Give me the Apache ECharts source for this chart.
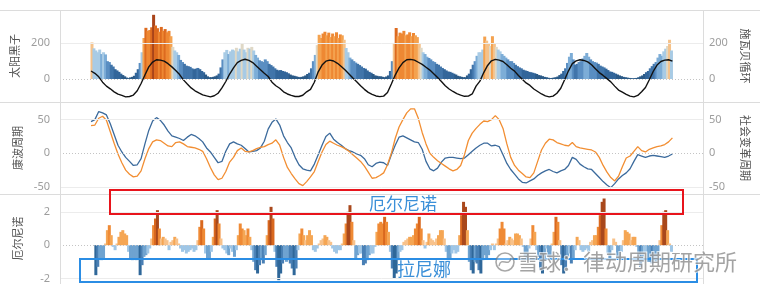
<!DOCTYPE html>
<html><head><meta charset="utf-8">
<script src="https://cdn.jsdelivr.net/npm/echarts@6/dist/echarts.min.js"></script>
<style>html,body{margin:0;padding:0;background:#fff;}#c{width:760px;height:284px;}</style>
</head><body><div id="c"></div>
<script>
// ---- data ----
const sunspotStart = 1949.5;   // quarterly
const sunspots = [205,172,
160,150,165,140, 150,138,100,95, 80,70,55,48, 40,30,22,15, 8,5,9,12,
18,35,55,90, 150,230,287,270, 275,290,360,300, 285,265,292,270, 280,262,270,240,
180,160,150,135, 107,95,85,75, 72,68,60,55, 58,62,55,45, 38,25,15,10,
10,12,15,20, 30,65,110,150, 163,140,155,165, 160,175,155,170, 197,165,150,175,
170,180,160,135, 120,105,100,95, 110,100,85,78, 70,60,52,48, 50,45,42,38,
32,25,20,18, 15,12,10,12, 15,20,28,35, 60,100,135,190, 248,230,255,265,
245,260,235,255, 240,262,230,250, 245,220,174,150, 120,110,100,92, 85,78,70,62,
58,48,40,35, 28,20,18,15, 15,12,10,14, 20,45,100,200, 286,240,260,255,
270,245,250,262, 240,258,245,235, 200,175,150,140, 125,118,110,100, 95,85,80,70,
62,55,48,42, 40,35,30,25, 18,15,12,10, 10,20,30,55, 80,100,130,150,
150,165,238,215, 200,185,240,200, 180,165,155,140, 130,120,110,100, 100,90,80,72,
65,60,52,48, 45,40,38,35, 32,28,22,20, 16,12,10,7, 5,6,8,10,
14,22,30,45, 60,90,125,146, 110,80,85,95, 100,115,130,146, 125,110,100,95,
92,85,75,70, 65,58,50,42, 40,35,30,25, 20,16,12,10, 8,6,5,4,
5,6,10,15, 20,28,38,45, 60,72,85,95, 120,140,130,155, 170,185,220,160];

const lineStart = 1949.5;      // half-yearly
const schwabe = [45,
32,12, -18,-40, -55,-72, -85,-92, -100,-98, -90,-66, -25,22, 68,95, 108,106, 100,86,
68,48, 25,-5, -28,-50, -66,-78, -89,-95, -100,-94, -80,-50, -14,28, 62,92, 104,111,
104,92, 72,52, 32,14, -18,-38, -52,-72, -84,-92, -98,-98, -91,-72, -58,-18, 40,78,
100,106, 101,88, 70,50, 28,6, -15,-38, -58,-75, -86,-95, -99,-96, -76,-28, 22,62,
92,108, 110,106, 94,82, 66,50, 30,8, -14,-38, -56,-70, -82,-90, -97,-96, -84,-40,
-12,36, 76,102, 110,106, 98,80, 60,44, 20,-2, -22,-36, -56,-70, -84,-95, -100,-96,
-80,-52, -4,46, 86,102, 108,104, 96,80, 58,36, 20,2, -16,-40, -62,-74, -86,-96,
-100,-92, -72,-48, -4,42, 78,98, 106,108, 100];
const kondratieff = [47,
50,62, 60,57, 44,28, 12,2, -6,-12, -18,-17, -8,14, 34,48, 53,49, 42,33,
26,24, 22,19, 24,28, 26,22, 17,8, 2,-6, -14,-12, 3,14, 17,14, 12,7,
2,3, 4,8, 18,36, 46,51, 42,26, 16,8, -6,-17, -23,-25, -26,-16, -2,12,
25,30, 21,16, 12,7, 4,2, -1,-3, -8,-17, -20,-15, -13,-14, -18,-2, 12,24,
26,23, 20,17, 16,6, -12,-23, -26,-22, -13,-7, -6,-6, -7,-8, -7,-2, 3,8,
12,15, 15,11, 12,10, -2,-15, -24,-31, -38,-43, -44,-41, -38,-33, -29,-26, -24,-27,
-29,-26, -24,-18, -6,-9, -16,-20, -23,-24, -30,-36, -42,-47, -51,-45, -38,-33, -29,-23,
-12,-2, -4,-6, -4,-3, -4,-5, -6,-4, -1];
const socialChange = [41,
42,52, 55,49, 32,15, -1,-14, -25,-31, -35,-34, -26,-8, 7,17, 20,19, 15,11,
10,16, 17,14, 10,9, 8,6, 3,-8, -21,-32, -39,-37, -27,-13, -6,4, 8,3,
2,4, 7,9, 10,13, 15,20, 12,-6, -21,-30, -38,-45, -48,-42, -35,-27, -12,2,
13,18, 15,12, 10,7, 3,-2, -7,-12, -19,-28, -37,-36, -33,-29, -17,0, 22,39,
50,60, 66,66, 52,31, 14,0, -6,-11, -15,-19, -23,-26, -24,-18, -2,19, 30,37,
43,48, 47,50, 56,50, 37,14, -6,-18, -25,-30, -35,-36, -29,-12, 5,15, 21,20,
16,14, 12,11, 16,10, 8,7, 6,5, 2,-6, -18,-28, -36,-41, -34,-20, -7,-4,
3,10, 4,2, 6,8, 10,11, 13,17, 23];

const ensoStart = 1950.0;      // quarterly
const enso = [
-1.8,-1.3,-0.8,-0.9, -0.8,0.1,0.9,1.2, 0.6,-0.1,-0.3,0.1, 0.5,0.8,0.9,0.7, 0.6,-0.4,-0.8,-0.9,
-0.8,-0.9,-0.8,-1.8, -1.2,-0.7,-0.6,-0.5, -0.2,0.4,1.2,1.6, 2.1,1.0,0.4,0.5, 0.4,0.3,-0.3,0.2,
0.3,0.5,0.4,0.1, -0.2,-0.4,-0.3,-0.5, -0.4,-0.3,-0.2,-0.4, -0.3,0.3,1.1,1.5, 1.0,-0.5,-0.8,-0.8,
-0.4,0.5,1.6,2.1, 1.3,0.4,-0.2,-0.3, -0.5,-0.6,-0.2,-0.4, -0.7,-0.3,0.6,1.3, 1.0,0.9,0.6,1.0,
0.5,-0.3,-1.0,-1.5, -1.7,-1.2,-0.9,-1.1, -0.6,0.6,1.5,2.3, 1.6,-0.4,-1.3,-2.1, -1.7,-1.1,-0.8,-1.0,
-0.9,-1.1,-1.4,-1.8, -1.4,-0.3,0.7,1.0, 0.6,0.3,0.6,0.9, 0.6,-0.3,-0.4,-0.2, 0.1,0.3,0.4,0.6,
0.5,0.3,0.2,-0.2, -0.4,-0.5,-0.3,-0.3, 0.1,0.7,1.3,2.0, 2.4,1.4,0.3,-0.8, -0.6,-0.5,-0.5,-1.2,
-1.1,-0.9,-0.6,-0.5, -0.5,-0.1,0.8,1.3, 1.4,1.3,1.7,1.4, 0.8,-0.4,-1.4,-2.0, -1.7,-0.9,-0.4,-0.3,
0.2,0.3,0.4,0.5, 0.5,0.6,1.0,1.3, 1.7,1.0,0.3,-0.2, 0.2,0.7,0.4,0.3, 0.2,0.4,0.6,0.9,
0.9,0.4,-0.4,-0.9, -0.8,-0.5,-0.3,-0.5, -0.4,0.6,1.8,2.6, 2.3,0.9,-1.0,-1.5, -1.7,-1.0,-1.1,-1.5,
-1.7,-0.9,-0.6,-0.8, -0.6,-0.3,0.1,-0.3, 0.1,0.4,1.0,1.4, 1.0,0.1,0.3,0.5, 0.4,0.3,0.7,0.7,
0.6,0.4,-0.1,-0.7, -0.8,-0.2,0.4,1.2, 0.8,-0.3,-0.7,-1.5, -1.7,-0.9,-0.2,-0.7, -0.8,0.1,0.8,1.7,
1.4,0.3,-1.2,-1.7, -1.4,-0.7,-0.5,-1.1, -0.8,-0.3,0.5,0.3, -0.3,-0.4,-0.3,-0.2, -0.4,0.2,0.3,0.6,
0.6,1.1,1.8,2.6, 2.8,1.0,-0.5,-0.8, -0.3,0.4,0.2,-0.8, -0.9,-0.4,0.3,0.9, 0.8,0.7,0.3,0.5,
0.5,-0.1,-0.6,-1.3, -1.0,-0.5,-0.4,-1.0, -1.0,-1.1,-0.9,-1.0, -0.6,0.3,1.2,2.0, 2.1,0.9,0.1,-0.4];

const topTicks = [0, 200];
const midTicks = [-50, 0, 50];
const botTicks = [-2, 0, 2];

// ---- build ----
function pairs(start, step, arr, offset) {
  return arr.map((v, i) => [start + i * step + offset, v]);
}
const X_MIN = 1945.47, X_MAX = 2028.97;
const labelStyle = {color: '#9d9d9d', fontSize: 11, fontFamily: 'Noto Sans'};
const nameStyle = {color: '#555', fontSize: 11, fontFamily: 'Noto Sans CJK SC'};
function yAx(grid, pos, min, max, ticks, name) {
  return {
    type: 'value', gridIndex: grid, position: pos, min: min, max: max,
    name: name, nameLocation: 'middle', nameGap: 37,
    nameRotate: pos === 'right' ? -90 : 90,
    nameTextStyle: nameStyle,
    axisLine: {show: false}, axisTick: {show: false}, splitLine: {show: false},
    axisLabel: Object.assign({customValues: ticks, margin: pos === 'right' ? 6 : 10, show: ticks.length > 0}, labelStyle)
  };
}
function guides(xi, yi, vals) {
  const d = vals.map(v => ({yAxis: v, lineStyle: v === 0
    ? {color: '#c4c4c4', type: [1, 2], width: 1}
    : {color: '#ececec', type: 'solid', width: 1}}));
  return {type: 'line', xAxisIndex: xi, yAxisIndex: yi, data: [], z: 0, silent: true,
    markLine: {silent: true, symbol: 'none', label: {show: false}, animation: false, data: d}};
}

const chart = echarts.init(document.getElementById('c'));
chart.setOption({
  animation: false,
  backgroundColor: '#fff',
  grid: [
    {left: 60, right: 57, top: 10, height: 92},
    {left: 60, right: 57, top: 102, height: 92},
    {left: 60, right: 57, top: 194, height: 90}
  ],
  xAxis: [0, 1, 2].map(g => ({type: 'value', gridIndex: g, min: X_MIN, max: X_MAX, show: false})),
  yAxis: [
    yAx(0, 'left', -129, 387, topTicks, '太阳黑子'),
    yAx(0, 'right', -129, 387, topTicks, '施瓦贝循环'),
    yAx(1, 'left', -60.4, 76.2, midTicks, '康波周期'),
    yAx(1, 'right', -60.4, 76.2, midTicks, '社会变革周期'),
    yAx(2, 'left', -2.28, 3.07, botTicks, '厄尔尼诺')
  ],
  visualMap: [
    {type: 'piecewise', show: false, seriesIndex: 0, dimension: 1, pieces: [
      {lt: 30, color: '#2b5a87'}, {gte: 30, lt: 60, color: '#33669a'},
      {gte: 60, lt: 90, color: '#4175aa'}, {gte: 90, lt: 120, color: '#5a8ec2'},
      {gte: 120, lt: 150, color: '#7dadd7'}, {gte: 150, lt: 175, color: '#a8cbe5'},
      {gte: 175, lt: 200, color: '#dfd8c6'}, {gte: 200, lt: 225, color: '#f5c28a'},
      {gte: 225, lt: 250, color: '#f4a24f'}, {gte: 250, lt: 280, color: '#ee8833'},
      {gte: 280, lt: 320, color: '#dd6a1f'}, {gte: 320, color: '#a9441a'}]},
    {type: 'piecewise', show: false, seriesIndex: 4, dimension: 1, pieces: [
      {lt: -1.5, color: '#2f6799'}, {gte: -1.5, lt: -1, color: '#4a80b5'},
      {gte: -1, lt: -0.5, color: '#6fa3d0'}, {gte: -0.5, lt: 0, color: '#9fc6e6'},
      {gte: 0, lt: 0.5, color: '#f8c28b'}, {gte: 0.5, lt: 1, color: '#f5a654'},
      {gte: 1, lt: 1.5, color: '#ef8a35'}, {gte: 1.5, lt: 2, color: '#d9681f'},
      {gte: 2, color: '#a9481c'}]}
  ],
  series: [
    {type: 'bar', xAxisIndex: 0, yAxisIndex: 0, barWidth: 3, z: 2,
     data: pairs(sunspotStart, 0.25, sunspots, 0.125)},
    {type: 'line', xAxisIndex: 0, yAxisIndex: 1, showSymbol: false, z: 3,
     lineStyle: {color: '#111', width: 1.4}, data: pairs(lineStart, 0.5, schwabe, 0)},
    {type: 'line', xAxisIndex: 1, yAxisIndex: 2, showSymbol: false, z: 3,
     lineStyle: {color: '#3b6a9c', width: 1.3}, data: pairs(lineStart, 0.5, kondratieff, 0)},
    {type: 'line', xAxisIndex: 1, yAxisIndex: 3, showSymbol: false, z: 3,
     lineStyle: {color: '#f28e32', width: 1.3}, data: pairs(lineStart, 0.5, socialChange, 0)},
    {type: 'bar', xAxisIndex: 2, yAxisIndex: 4, barWidth: 3, z: 2,
     data: pairs(ensoStart, 0.25, enso, 0.125)},
    guides(0, 0, [200, 0]),
    guides(1, 2, [50, 0, -50]),
    guides(2, 4, [2, 0, -2])
  ],
  graphic: [
    {type: 'line', shape: {x1: 0, y1: 10.5, x2: 760, y2: 10.5}, style: {stroke: '#dcdcdc', lineWidth: 1}, z: 10},
    {type: 'line', shape: {x1: 0, y1: 102.5, x2: 760, y2: 102.5}, style: {stroke: '#dcdcdc', lineWidth: 1}, z: 10},
    {type: 'line', shape: {x1: 0, y1: 194.5, x2: 760, y2: 194.5}, style: {stroke: '#dcdcdc', lineWidth: 1}, z: 10},
    {type: 'line', shape: {x1: 60.5, y1: 10, x2: 60.5, y2: 284}, style: {stroke: '#dcdcdc', lineWidth: 1}, z: 10},
    {type: 'line', shape: {x1: 703.5, y1: 10, x2: 703.5, y2: 284}, style: {stroke: '#dcdcdc', lineWidth: 1}, z: 10},
    {type: 'rect', shape: {x: 110, y: 190, width: 573, height: 24}, style: {fill: null, stroke: '#e8141c', lineWidth: 2}, z: 20},
    {type: 'rect', shape: {x: 80, y: 259, width: 617, height: 23}, style: {fill: null, stroke: '#2b8de4', lineWidth: 2}, z: 20},
    {type: 'text', x: 403, y: 204, z: 21, style: {text: '厄尔尼诺', fill: '#3a8fd8', fontSize: 17, fontFamily: 'Noto Sans CJK SC', textAlign: 'center', textVerticalAlign: 'middle'}},
    {type: 'text', x: 424, y: 269, z: 21, style: {text: '拉尼娜', fill: '#3a8fd8', fontSize: 18, fontFamily: 'Noto Sans CJK SC', textAlign: 'center', textVerticalAlign: 'middle'}},
    {type: 'circle', shape: {cx: 505, cy: 262, r: 9}, z: 22, style: {fill: 'rgba(255,255,255,0.3)', stroke: 'rgba(120,120,120,0.65)', lineWidth: 1.6}},
    {type: 'bezierCurve', shape: {x1: 499, y1: 266, x2: 511, y2: 258, cpx1: 501, cpy1: 256, cpx2: 509, cpy2: 268}, z: 22, style: {fill: null, stroke: 'rgba(120,120,120,0.65)', lineWidth: 1.4}},
    {type: 'text', x: 517, y: 262, z: 22, style: {text: '雪球：律动周期研究所', fill: 'rgba(120,120,120,0.68)', stroke: 'rgba(255,255,255,0.7)', lineWidth: 2, fontSize: 22, fontFamily: 'Noto Sans CJK SC', textAlign: 'left', textVerticalAlign: 'middle'}}
  ]
});
</script></body></html>
